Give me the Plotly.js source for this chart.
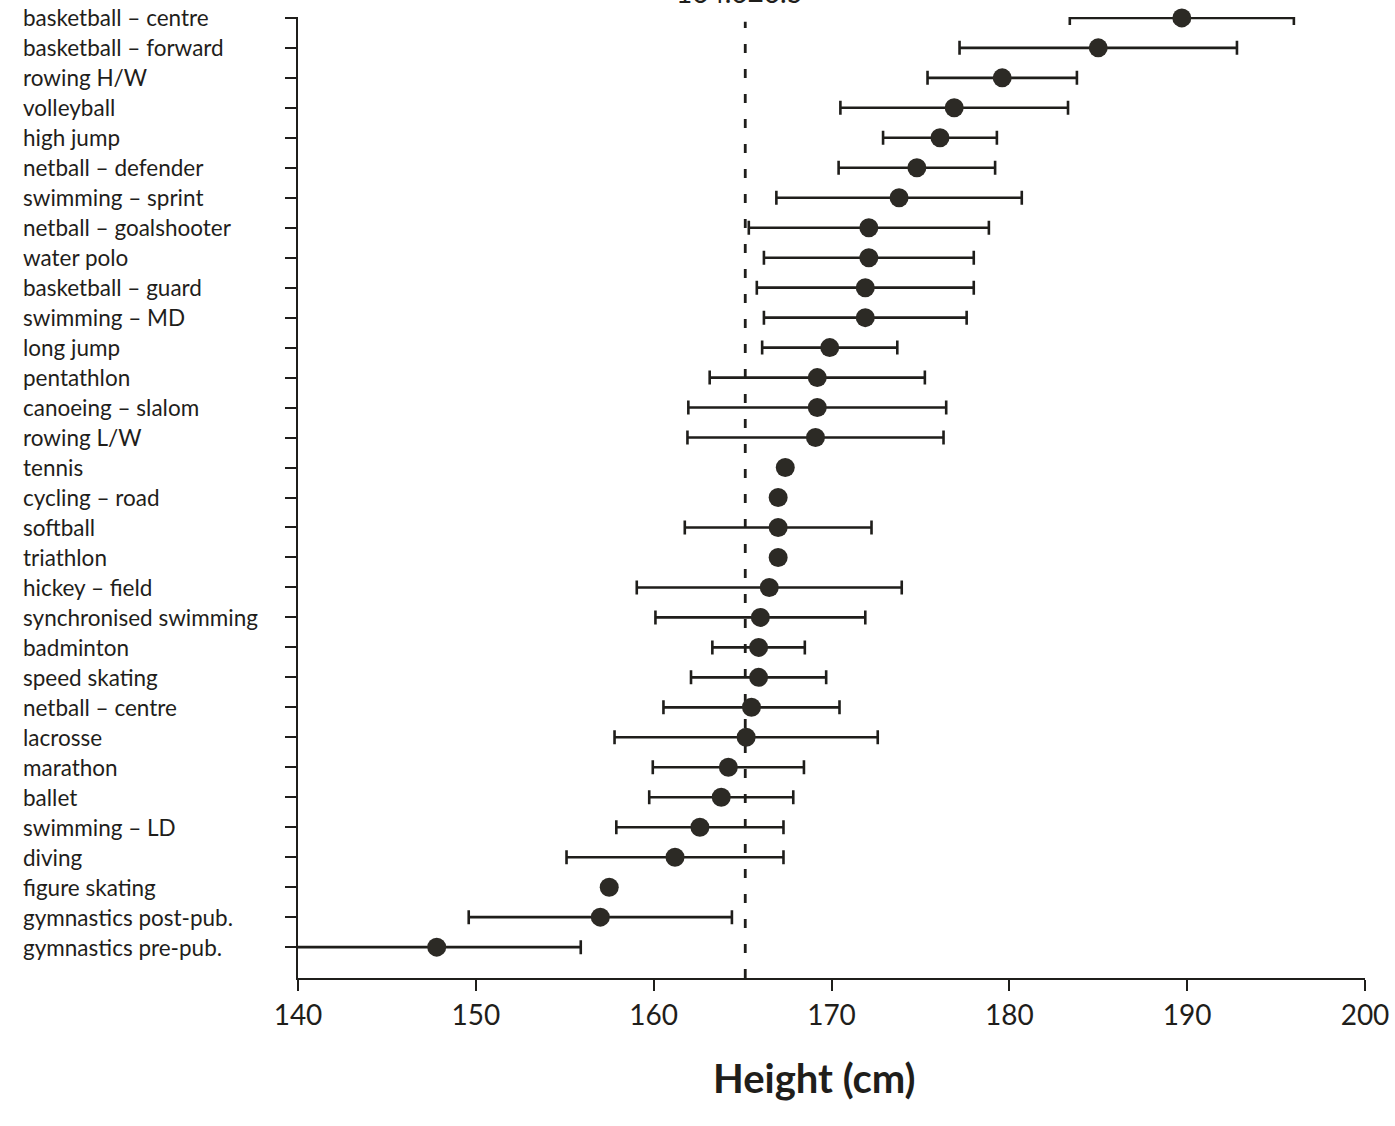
<!DOCTYPE html>
<html>
<head>
<meta charset="utf-8">
<script src="https://cdn.plot.ly/plotly-3.0.1.min.js"></script>
<style>
  html, body { margin: 0; padding: 0; background: #ffffff; }
  #chart { width: 1395px; height: 1126px; }
</style>
</head>
<body>
<div id="chart"></div>
<script>
// Sports, top to bottom
const categories = [
  "basketball – centre",
  "basketball – forward",
  "rowing H/W",
  "volleyball",
  "high jump",
  "netball – defender",
  "swimming – sprint",
  "netball – goalshooter",
  "water polo",
  "basketball – guard",
  "swimming – MD",
  "long jump",
  "pentathlon",
  "canoeing – slalom",
  "rowing L/W",
  "tennis",
  "cycling – road",
  "softball",
  "triathlon",
  "hickey – field",
  "synchronised swimming",
  "badminton",
  "speed skating",
  "netball – centre",
  "lacrosse",
  "marathon",
  "ballet",
  "swimming – LD",
  "diving",
  "figure skating",
  "gymnastics post-pub.",
  "gymnastics pre-pub."
];

// Mean height (cm)
const meanHeight = [
  189.7, 185.0, 179.6, 176.9, 176.1, 174.8, 173.8, 172.1, 172.1, 171.9, 171.9,
  169.9, 169.2, 169.2, 169.1, 167.4, 167.0, 167.0, 167.0, 166.5, 166.0,
  165.9, 165.9, 165.5, 165.2, 164.2, 163.8, 162.6, 161.2, 157.5, 157.0, 147.8
];

// Standard deviation (cm); null = not shown
const sdHeight = [
  6.3, 7.8, 4.2, 6.4, 3.2, 4.4, 6.9, 6.75, 5.9, 6.1, 5.7,
  3.8, 6.05, 7.25, 7.2, null, null, 5.25, null, 7.45, 5.9,
  2.6, 3.8, 4.95, 7.4, 4.25, 4.05, 4.7, 6.1, null, 7.4, 8.1
];

// Reference (population) mean line
const refMean = 165.15;
const refLabel = "164.6±6.5";

const xTicks = [140, 150, 160, 170, 180, 190, 200];
const xTitle = "Height (cm)";

const FONT = "Lato, 'Open Sans', 'DejaVu Sans', sans-serif";
const INK = "#1f1e1b";

const trace = {
  type: "scatter",
  mode: "markers",
  x: meanHeight,
  y: categories,
  cliponaxis: false,
  marker: { size: 19, color: "#2c2a25", line: { width: 0 } },
  error_x: {
    type: "data",
    array: sdHeight,
    visible: true,
    color: INK,
    thickness: 2.6,
    width: 7
  },
  hoverinfo: "x+y",
  showlegend: false
};

const labelAnnotations = categories.map(c => ({
  xref: "paper",
  yref: "y",
  x: -0.2597,
  y: c,
  xanchor: "left",
  yanchor: "middle",
  text: c,
  showarrow: false,
  font: { family: FONT, size: 22.5, color: INK }
}));

const layout = {
  width: 1395,
  height: 1126,
  paper_bgcolor: "#ffffff",
  plot_bgcolor: "#ffffff",
  margin: { l: 298, r: 30, t: 17, b: 148, pad: 0 },
  font: { family: FONT, color: INK },
  showlegend: false,
  xaxis: {
    range: [140, 200],
    tickvals: xTicks,
    ticktext: xTicks.map(String),
    ticks: "outside",
    ticklen: 11,
    tickwidth: 2,
    tickcolor: INK,
    showline: true,
    linecolor: INK,
    linewidth: 2.2,
    showgrid: false,
    zeroline: false,
    tickfont: { family: FONT, size: 28, color: INK }
  },
  yaxis: {
    type: "category",
    categoryorder: "array",
    categoryarray: categories,
    range: [32.03, -0.03],
    ticks: "outside",
    ticklen: 11,
    tickwidth: 2,
    tickcolor: INK,
    showline: true,
    linecolor: INK,
    linewidth: 2.2,
    showgrid: false,
    zeroline: false,
    showticklabels: false
  },
  shapes: [{
    type: "line",
    xref: "x",
    yref: "paper",
    x0: refMean,
    x1: refMean,
    y0: 0,
    y1: 0.995,
    line: { color: INK, width: 2.8, dash: "9px,16px" },
    layer: "below"
  }],
  annotations: labelAnnotations.concat([
    {
      xref: "x",
      yref: "paper",
      x: refMean - 0.3,
      y: 1,
      yanchor: "bottom",
      xanchor: "center",
      yshift: 6,
      text: refLabel,
      showarrow: false,
      font: { family: FONT, size: 28, color: INK }
    },
    {
      xref: "paper",
      yref: "paper",
      x: 0.4845,
      y: -0.104,
      xanchor: "center",
      yanchor: "middle",
      text: "<b>" + xTitle + "</b>",
      showarrow: false,
      font: { family: FONT, size: 40, color: INK }
    }
  ])
};

Plotly.newPlot("chart", [trace], layout, { displayModeBar: false, staticPlot: true });
</script>
</body>
</html>
